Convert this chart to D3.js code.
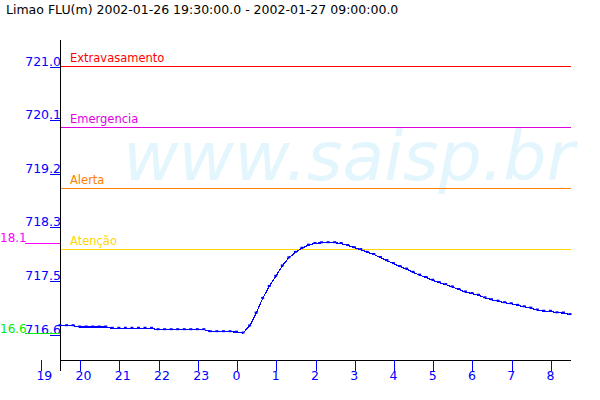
<!DOCTYPE html>
<html><head><meta charset="utf-8">
<script src="https://cdn.jsdelivr.net/npm/d3@7/dist/d3.min.js"></script>
<style>
html,body{margin:0;padding:0;background:#fff;}
svg{display:block;}
text{font-family:"DejaVu Sans",sans-serif;}
</style></head><body>
<svg id="c" width="600" height="400"></svg>
<script>
// ---- data ----
const titleText = "Limao FLU(m) 2002-01-26 19:30:00.0 - 2002-01-27 09:00:00.0";
const startHour = 19.5;          // 19:30
const stepHours = 1/6;           // 10 minutes
const levels = [
  716.736,716.736,716.736,716.715,716.715,716.715,716.715,716.715,716.694,716.694,
  716.694,716.694,716.694,716.694,716.694,716.671,716.671,716.671,716.671,716.671,
  716.671,716.671,716.671,716.638,716.638,716.638,716.638,716.630,716.616,716.733,
  716.943,717.185,717.381,717.547,717.718,717.851,717.940,718.008,718.058,718.087,
  718.097,718.099,718.099,718.086,718.053,718.018,717.986,717.941,717.905,717.856,
  717.805,717.756,717.707,717.666,717.613,717.567,717.528,717.483,717.444,717.411,
  717.373,717.331,717.290,717.265,717.237,717.194,717.163,717.139,717.114,717.097,
  717.071,717.047,717.025,716.994,716.974,716.973,716.948,716.945,716.919
];
const xTickHours = [19,20,21,22,23,24,25,26,27,28,29,30,31,32];
const xTickLabels = ["19","20","21","22","23","0","1","2","3","4","5","6","7","8"];
const yTickValues = [716.6,717.48,718.36,719.24,720.12,721.0];
const yTickLabels = ["716.6","717.5","718.3","719.2","720.1","721.0"];
const thresholdNames = ["Extravasamento","Emergencia","Alerta","Atenção"];
const thresholdValues = [721.0,720.0,719.0,718.0];
const thresholdColors = ["#ff0000","#e000e0","#ff8000","#ffd700"];
const maxLabel = "18.1", maxValue = 718.1;
const minLabel = "16.6", minValue = 716.6;

// ---- layout ----
const svg = d3.select("#c");
const x = d3.scaleLinear().domain([19.5, 32.5]).range([60, 570]);
const y = d3.scaleLinear().domain([716.6, 721.0]).range([334, 66]);
const axisY = 360;

// watermark
svg.append("text").attr("x",123).attr("y",180)
  .attr("font-size",68).attr("font-style","italic")
  .attr("fill","#e3f5fd").text("www.saisp.br");

// title
svg.append("text").attr("x",6).attr("y",14).attr("font-size",12.5)
  .attr("fill","#000").text(titleText);

// threshold lines
thresholdValues.forEach((v,i)=>{
  svg.append("line").attr("x1",60).attr("x2",571)
    .attr("y1",Math.round(y(v))+0.5).attr("y2",Math.round(y(v))+0.5)
    .attr("stroke",thresholdColors[i]).attr("stroke-width",1).attr("shape-rendering","crispEdges");
  svg.append("text").attr("x",70).attr("y",Math.round(y(v))-4)
    .attr("font-size",11.5).attr("fill",thresholdColors[i]).text(thresholdNames[i]);
});

// axes lines
svg.append("line").attr("x1",60.5).attr("x2",60.5).attr("y1",40).attr("y2",371)
  .attr("stroke","#000").attr("shape-rendering","crispEdges");
svg.append("line").attr("x1",60).attr("x2",571).attr("y1",axisY+0.5).attr("y2",axisY+0.5)
  .attr("stroke","#000").attr("shape-rendering","crispEdges");

// y ticks
const yAxis = d3.axisLeft(y).tickValues(yTickValues).tickSize(0).tickFormat((d,i)=>yTickLabels[i]);
const gy = svg.append("g").attr("transform","translate(61,0)").call(yAxis);
gy.select(".domain").remove();
gy.selectAll("text").attr("x",0).attr("dy",null).attr("y",-1)
  .attr("font-size",12.5).attr("fill","#0000ff").attr("text-anchor","end")
  .style("font-family","DejaVu Sans");
gy.selectAll(".tick").append("line").attr("x1",-11).attr("x2",-1).attr("y1",0.5).attr("y2",0.5)
  .attr("stroke","#0000ff").attr("shape-rendering","crispEdges");

// x ticks
const xAxis = d3.axisBottom(x).tickValues(xTickHours).tickSize(0).tickFormat((d,i)=>xTickLabels[i]);
const gx = svg.append("g").attr("transform",`translate(0,${axisY})`).call(xAxis);
gx.select(".domain").remove();
gx.selectAll(".tick").append("line").attr("x1",0.5).attr("x2",0.5).attr("y1",0).attr("y2",11)
  .attr("stroke","#0000ff").attr("shape-rendering","crispEdges");
gx.selectAll("text").attr("x",-4.5).attr("y",20).attr("dy",null)
  .attr("text-anchor","start").attr("font-size",12.5).attr("fill","#0000ff")
  .style("font-family","DejaVu Sans");

// max / min markers
svg.append("line").attr("x1",25).attr("x2",60).attr("y1",Math.round(y(maxValue))+0.5).attr("y2",Math.round(y(maxValue))+0.5)
  .attr("stroke","#ff00ff").attr("shape-rendering","crispEdges");
svg.append("text").attr("x",0).attr("y",Math.round(y(maxValue))-1).attr("text-anchor","start")
  .attr("font-size",12).attr("fill","#ff00ff").text(maxLabel);
svg.append("line").attr("x1",25).attr("x2",60).attr("y1",Math.round(y(minValue))-0.5).attr("y2",Math.round(y(minValue))-0.5)
  .attr("stroke","#00ee00").attr("shape-rendering","crispEdges");
svg.append("text").attr("x",0).attr("y",Math.round(y(minValue))-1).attr("text-anchor","start")
  .attr("font-size",12).attr("fill","#00ee00").text(minLabel);

// data line
const pts = levels.map((v,i)=>[x(startHour + i*stepHours), y(v)]);
svg.append("path").attr("d",d3.line()(pts)).attr("fill","none")
  .attr("stroke","#0000ff").attr("stroke-width",1.2).attr("shape-rendering","crispEdges");
svg.selectAll("rect.m").data(pts).join("rect").attr("class","m")
  .attr("x",d=>d[0]-1.5).attr("y",d=>d[1]-1.5).attr("width",3).attr("height",2)
  .attr("fill","#0000ff");
</script>
</body></html>
